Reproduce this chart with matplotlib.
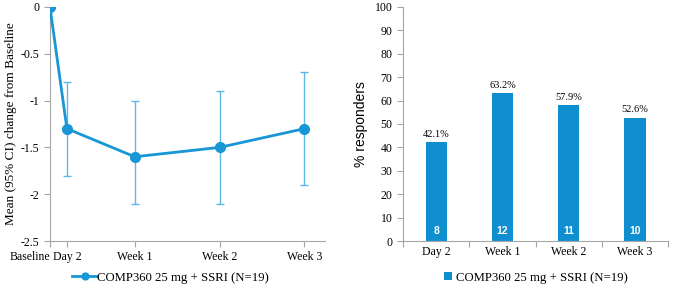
import matplotlib
matplotlib.use('Agg')
import matplotlib.pyplot as plt
import numpy as np

# data
line_labels = ['Baseline', 'Day 2', 'Week 1', 'Week 2', 'Week 3']
line_x = [0, 0.2, 1, 2, 3]
mean_change = [0, -1.3, -1.6, -1.5, -1.3]
ci_low = [0, -1.8, -2.1, -2.1, -1.9]
ci_high = [0, -0.8, -1.0, -0.9, -0.7]

bar_labels = ['Day 2', 'Week 1', 'Week 2', 'Week 3']
pct_resp = [42.1, 63.2, 57.9, 52.6]
n_resp = [8, 12, 11, 10]

series_name = 'COMP360 25 mg + SSRI (N=19)'

serif = 'Liberation Serif'
blue = '#1896d5'
light = '#5cb8e6'
gray = '#a6a6a6'
fs = 8.5

fig = plt.figure(figsize=(6.75, 2.87), dpi=100)

# ---------- left: mean change ----------
ax1 = fig.add_axes([0.074, 0.160, 0.407, 0.816])
yerr = [np.array(mean_change) - np.array(ci_low), np.array(ci_high) - np.array(mean_change)]
ax1.errorbar(line_x[1:], mean_change[1:], yerr=[yerr[0][1:], yerr[1][1:]], fmt='none',
             ecolor=light, elinewidth=1, capsize=3, capthick=1, zorder=2)
ax1.plot(line_x, mean_change, color=blue, lw=2, marker='o', ms=7, zorder=3,
         label=series_name)
ax1.set_xlim(0, 3.24)
ax1.set_ylim(-2.5, 0)
ax1.set_yticks([0, -0.5, -1, -1.5, -2, -2.5])
ax1.set_yticklabels(['0', '-0.5', '-1', '-1.5', '-2', '-2.5'], family=serif, fontsize=fs)
ax1.set_xticks(line_x)
ax1.set_xticklabels(line_labels, family=serif, fontsize=fs)
ax1.get_xticklabels()[0].set_ha('right')
ax1.set_ylabel('Mean (95% CI) change from Baseline', family=serif, fontsize=9.5, labelpad=3)
for s in ['top', 'right']:
    ax1.spines[s].set_visible(False)
for s in ['left', 'bottom']:
    ax1.spines[s].set_color(gray)
ax1.tick_params(colors=gray, labelcolor='black', length=4, width=0.8)
h1, l1 = ax1.get_legend_handles_labels()
fig.legend(h1, l1, loc='center', bbox_to_anchor=(0.253, 0.033), frameon=False,
           prop={'family': serif, 'size': 9.2}, handlelength=1.9, handletextpad=0.05,
           markerscale=0.7, borderpad=0)

# ---------- right: % responders ----------
ax2 = fig.add_axes([0.597, 0.160, 0.393, 0.816])
xb = np.arange(len(bar_labels))
ax2.bar(xb, pct_resp, width=0.32, color='#0f8fd0', label=series_name)
for i in range(len(xb)):
    ax2.text(xb[i], pct_resp[i] + 1.5, f'{pct_resp[i]}%', ha='center', va='bottom',
             family=serif, fontsize=7.5)
    ax2.text(xb[i], 4.5, str(n_resp[i]), ha='center', va='center', color='white',
             fontweight='bold', family='Liberation Sans', fontsize=7.5)
ax2.set_xlim(-0.5, 3.5)
ax2.set_ylim(0, 100)
ax2.set_yticks(range(0, 101, 10))
ax2.set_yticklabels([str(v) for v in range(0, 101, 10)], family=serif, fontsize=fs)
ax2.set_xticks(xb)
ax2.set_xticklabels(bar_labels, family=serif, fontsize=fs)
ax2.set_xticks(np.arange(-0.5, 4, 1), minor=True)
ax2.tick_params(axis='x', which='major', length=0)
ax2.tick_params(axis='x', which='minor', length=4, width=0.8, colors=gray)
ax2.tick_params(axis='y', colors=gray, labelcolor='black', length=4, width=0.8)
ax2.set_ylabel('% responders', family='Liberation Sans', fontsize=10, labelpad=5)
for s in ['top', 'right']:
    ax2.spines[s].set_visible(False)
for s in ['left', 'bottom']:
    ax2.spines[s].set_color(gray)
h2, l2 = ax2.get_legend_handles_labels()
fig.legend(h2, l2, loc='center', bbox_to_anchor=(0.794, 0.033), frameon=False,
           prop={'family': serif, 'size': 9.2}, handlelength=0.6, handleheight=0.6,
           handletextpad=0.3, borderpad=0)

plt.savefig('out.png', dpi=100)
